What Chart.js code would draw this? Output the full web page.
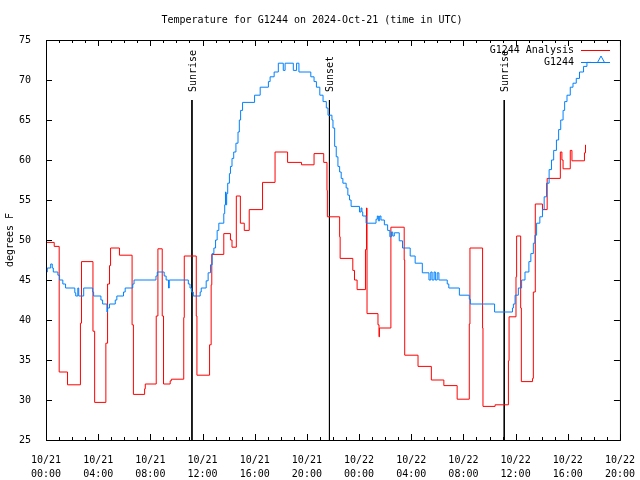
<!DOCTYPE html>
<html>
<head>
<meta charset="utf-8">
<script src="https://cdn.jsdelivr.net/npm/chart.js@4.4.1/dist/chart.umd.min.js"></script>
<style>
    body { margin: 0; background: #fff; }
    #box { width: 640px; height: 480px; }
</style>
</head>
<body>
<div id="box"><canvas id="tempChart"></canvas></div>
<script>
// hours since 10/21 00:00 UTC
const obsHours = [
    0, 0.1, 0.36, 0.48, 0.56, 0.91, 1.04, 1.29, 1.5, 2.21, 2.28, 2.44, 2.51, 2.89,
    3.58, 3.65, 4.21, 4.34, 4.67, 4.72, 4.87, 5.31, 5.43, 5.94, 6.07, 6.65, 6.75,
    8.43, 8.53, 9.06, 9.21, 9.39, 9.45, 10.91, 11.04, 11.15, 11.29, 11.82, 11.9,
    12.28, 12.43, 12.61, 12.74, 12.87, 13.0, 13.12, 13.25, 13.63, 13.7, 13.76, 13.8,
    13.85, 13.93, 14.06, 14.14, 14.26, 14.39, 14.56, 14.72, 14.82, 14.92, 15.07,
    15.99, 16.42, 17.05, 17.18, 17.49, 17.81, 18.19, 18.33, 18.96, 19.21, 19.39,
    20.3, 20.55, 20.73, 20.99, 21.24, 21.49, 21.62, 21.92, 22.0, 22.13, 22.25, 22.38,
    22.51, 22.63, 22.76, 23.01, 23.14, 23.27, 23.39, 24.03, 24.15, 24.22, 24.28,
    24.54, 25.3, 25.4, 25.48, 25.58, 25.68, 25.94, 26.19, 26.36, 26.48, 26.58, 26.7,
    27.08, 27.33, 27.92, 28.3, 28.85, 29.36, 29.5, 29.6, 29.75, 29.85, 29.99, 30.12,
    30.76, 30.88, 31.69, 32.45, 32.53, 34.39, 35.76, 35.83, 35.96, 36.21, 36.46,
    36.72, 37.02, 37.17, 37.36, 37.48, 37.61, 37.86, 38.06, 38.19, 38.37, 38.57,
    38.75, 38.92, 39.13, 39.3, 39.46, 39.64, 39.76, 39.94, 40.19, 40.4, 40.65, 40.9,
    41.21, 41.47, 41.79
];
const obsTemps = [
    46.0, 46.5, 47.0, 46.5, 46.0, 45.6, 45.0, 44.5, 44.0, 43.4, 43.0, 44.0, 43.0, 44.0,
    43.5, 43.0, 42.5, 42.0, 41.0, 41.5, 42.0, 42.5, 43.0, 43.5, 44.0, 44.5, 45.0,
    45.5, 46.0, 45.5, 45.0, 44.0, 45.0, 44.5, 44.0, 43.5, 43.0, 43.5, 44.0,
    44.9, 45.9, 46.9, 48.3, 49.0, 50.0, 51.2, 52.1, 53.3, 54.4, 56.0, 54.4,
    55.8, 57.1, 58.3, 59.2, 60.2, 61.0, 62.1, 63.5, 65.0, 66.2, 67.2,
    68.1, 69.1, 69.8, 70.4, 71.0, 72.1, 71.2, 72.1, 71.2, 72.1, 71.0,
    70.4, 69.8, 69.1, 68.1, 67.3, 66.5, 65.6, 65.0, 64.0, 61.7, 60.4, 59.2,
    58.5, 57.7, 57.1, 56.5, 55.6, 55.0, 54.2, 53.5, 54.0, 53.5, 53.0,
    52.1, 52.6, 53.0, 52.4, 53.0, 52.5, 51.9, 51.2, 50.4, 51.0, 50.5, 50.9,
    49.9, 49.0, 48.0, 47.1, 45.9, 45.0, 46.0, 45.0, 46.0, 45.0, 45.9, 45.0,
    44.5, 44.0, 43.1, 42.6, 42.0, 41.0, 41.5, 42.0, 43.1, 44.0, 45.0,
    46.0, 47.3, 48.3, 49.6, 50.6, 52.1, 52.9, 53.8, 55.4, 57.1, 58.8,
    60.0, 61.2, 62.5, 63.8, 65.0, 66.2, 67.3, 68.1, 69.1, 69.6, 70.2, 71.0,
    71.7, 72.2, 72.2
];

const analysisHours = [
    0, 0.63, 1.01, 1.65, 2.64, 2.72, 3.6, 3.73, 4.59, 4.72, 4.87, 4.95, 5.63,
    6.6, 6.7, 7.56, 7.61, 8.45, 8.58, 8.91, 9.01, 9.52, 9.61, 10.56, 10.6,
    11.52, 11.57, 12.54, 12.66, 12.71, 13.63, 14.14, 14.26, 14.59, 14.9, 15.2,
    15.58, 16.6, 17.56, 18.52, 19.59, 20.55, 21.29, 21.54, 21.57, 22.51, 22.55,
    23.52, 23.65, 23.85, 24.49, 24.57, 24.61, 25.45, 25.53, 25.56, 26.44, 27.46,
    27.5, 28.52, 29.54, 30.5, 31.52, 32.45, 32.5, 33.47, 33.5, 34.43, 35.45,
    35.5, 36.03, 36.08, 36.39, 36.44, 37.3, 37.36, 37.51, 38.06, 38.42, 39.43,
    39.55, 39.64, 40.19, 40.32, 41.28, 41.36
];
const analysisTemps = [
    49.7, 49.2, 33.5, 31.9, 39.6, 47.3, 38.6, 29.7, 37.1, 44.5, 46.8, 49.0, 48.1,
    39.4, 30.7, 31.4, 32.0, 40.5, 48.9, 40.5, 32.0, 32.4, 32.6, 40.3, 48.0,
    40.5, 33.1, 36.9, 44.4, 48.2, 50.8, 50.0, 49.1, 55.5, 52.1, 51.2,
    53.8, 57.2, 61.0, 59.7, 59.4, 60.8, 59.7, 56.2, 52.9, 50.4, 47.7,
    46.2, 45.0, 43.8, 48.8, 54.0, 40.8, 39.4, 37.9, 39.0, 51.6, 47.5,
    35.6, 34.2, 32.5, 31.8, 30.1, 39.5, 49.0, 39.0, 29.2, 29.4, 34.9,
    40.4, 45.4, 50.5, 41.5, 32.3, 32.7, 43.5, 54.5, 53.8, 57.7, 61.0,
    60.0, 58.9, 61.2, 59.9, 60.9, 61.9
];

const sunHours = [11.19, 21.73, 35.13];
const sunLabels = ["Sunrise", "Sunset", "Sunrise"];

const tickLabels = [
    ["10/21", "00:00"], ["10/21", "04:00"], ["10/21", "08:00"], ["10/21", "12:00"],
    ["10/21", "16:00"], ["10/21", "20:00"], ["10/22", "00:00"], ["10/22", "04:00"],
    ["10/22", "08:00"], ["10/22", "12:00"], ["10/22", "16:00"], ["10/22", "20:00"]
];

const monoFont = "'DejaVu Sans Mono', monospace";

function toPoints(xs, ys) {
    return xs.map((h, i) => ({ x: h, y: ys[i] }));
}

const sunDatasets = sunHours.map((h) => ({
    label: "sun",
    data: [{ x: h, y: 67.5 }, { x: h, y: 25 }],
    borderColor: "#000000",
    borderWidth: 1,
    pointRadius: 0
}));

// frame, inward ticks, sun labels and gnuplot-style key
const gnuplotFrame = {
    id: "gnuplotFrame",
    afterDatasetsDraw(chart) {
        const ctx = chart.ctx;
        const a = chart.chartArea;
        const xs = chart.scales.x;
        const ys = chart.scales.y;

        ctx.save();
        ctx.strokeStyle = "#000000";
        ctx.lineWidth = 1;
        ctx.strokeRect(a.left + 0.5, a.top + 0.5, a.right - a.left, a.bottom - a.top);

        ctx.beginPath();
        for (let h = xs.min; h <= xs.max; h++) {
            const px = Math.round(xs.getPixelForValue(h)) + 0.5;
            const len = h % 4 === 0 ? 6 : 3;
            ctx.moveTo(px, a.bottom);
            ctx.lineTo(px, a.bottom - len);
            ctx.moveTo(px, a.top);
            ctx.lineTo(px, a.top + len);
        }
        ys.ticks.forEach((t) => {
            const py = Math.round(ys.getPixelForValue(t.value)) + 0.5;
            ctx.moveTo(a.left, py);
            ctx.lineTo(a.left + 6, py);
            ctx.moveTo(a.right, py);
            ctx.lineTo(a.right - 6, py);
        });
        ctx.stroke();

        ctx.fillStyle = "#000000";
        ctx.font = "10px " + monoFont;
        sunHours.forEach((h, i) => {
            const px = xs.getPixelForValue(h);
            ctx.save();
            ctx.translate(px + 1, ys.getPixelForValue(68.5));
            ctx.rotate(-Math.PI / 2);
            ctx.textAlign = "left";
            ctx.textBaseline = "middle";
            ctx.fillText(sunLabels[i], 0, 0);
            ctx.restore();
        });

        const keys = [chart.data.datasets[1], chart.data.datasets[0]];
        ctx.textAlign = "right";
        ctx.textBaseline = "middle";
        keys.forEach((ds, i) => {
            const ky = 50 + i * 12;
            ctx.fillStyle = "#000000";
            ctx.fillText(ds.label, 574, ky);
            ctx.strokeStyle = ds.borderColor;
            ctx.beginPath();
            ctx.moveTo(581, ky + 0.5);
            ctx.lineTo(610, ky + 0.5);
            ctx.stroke();
        });
        ctx.strokeStyle = chart.data.datasets[0].borderColor;
        ctx.beginPath();
        ctx.moveTo(597.5, 62.5);
        ctx.lineTo(601, 56);
        ctx.lineTo(604.5, 62.5);
        ctx.stroke();
        ctx.restore();
    }
};

new Chart(document.getElementById("tempChart"), {

    type: "line",

    data: {
        datasets: [
            {
                label: "G1244",
                data: toPoints(obsHours, obsTemps),
                borderColor: "#0080ff",
                borderWidth: 1,
                pointRadius: 0,
                stepped: true
            },
            {
                label: "G1244 Analysis",
                data: toPoints(analysisHours, analysisTemps),
                borderColor: "#ff0000",
                borderWidth: 1,
                pointRadius: 0,
                stepped: true
            },
            ...sunDatasets
        ]
    },

    options: {
        responsive: true,
        maintainAspectRatio: false,
        animation: false,
        layout: { padding: { left: 0, right: 16, top: 0, bottom: 0 } },
        plugins: {
            legend: { display: false },
            tooltip: { enabled: false },
            title: {
                display: true,
                text: "Temperature for G1244 on 2024-Oct-21 (time in UTC)",
                color: "#000000",
                font: { family: monoFont, size: 10, weight: "normal", lineHeight: 1.2 },
                padding: { top: 14, bottom: 14 }
            }
        },
        scales: {
            x: {
                type: "linear",
                min: 0,
                max: 44,
                grid: { display: false },
                border: { display: false },
                ticks: {
                    stepSize: 4,
                    autoSkip: false,
                    maxRotation: 0,
                    padding: 5,
                    color: "#000000",
                    font: { family: monoFont, size: 10, lineHeight: 1.45 },
                    callback: (v) => tickLabels[v / 4]
                },
                afterFit: (s) => { s.height = 40; }
            },
            y: {
                min: 25,
                max: 75,
                grid: { display: false },
                border: { display: false },
                ticks: {
                    stepSize: 5,
                    padding: 7,
                    color: "#000000",
                    font: { family: monoFont, size: 10 }
                },
                title: {
                    display: true,
                    text: "degrees F",
                    color: "#000000",
                    font: { family: monoFont, size: 10 },
                    padding: { top: 4, bottom: 4 }
                },
                afterFit: (s) => { s.width = 46; }
            }
        }
    },

    plugins: [gnuplotFrame]

});
</script>
</body>
</html>
